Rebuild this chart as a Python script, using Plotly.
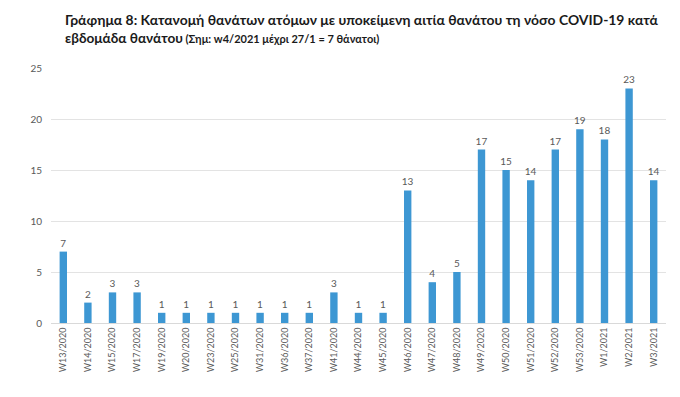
import plotly.graph_objects as go

weeks = ["W13/2020", "W14/2020", "W15/2020", "W17/2020", "W19/2020", "W20/2020",
         "W23/2020", "W25/2020", "W31/2020", "W36/2020", "W37/2020", "W41/2020",
         "W44/2020", "W45/2020", "W46/2020", "W47/2020", "W48/2020", "W49/2020",
         "W50/2020", "W51/2020", "W52/2020", "W53/2020", "W1/2021", "W2/2021", "W3/2021"]
deaths = [7, 2, 3, 3, 1, 1, 1, 1, 1, 1, 1, 3, 1, 1, 13, 4, 5, 17, 15, 14, 17, 19, 18, 23, 14]
y_ticks = [0, 5, 10, 15, 20, 25]

title_line1 = "Γράφημα 8: Κατανομή θανάτων ατόμων με υποκείμενη αιτία θανάτου τη νόσο COVID-19 κατά"
title_line2a = "εβδομάδα θανάτου"
title_line2b = " (Σημ: w4/2021 μέχρι 27/1 = 7 θάνατοι)"

FONT = "Lato, 'Noto Sans', sans-serif"
GRAY = "#595959"

fig = go.Figure(go.Bar(
    x=weeks, y=deaths,
    marker=dict(color="#3D97D3", line=dict(width=0)),
    text=[str(v) for v in deaths], textposition="outside",
    textfont=dict(family=FONT, size=10, color=GRAY),
    constraintext="none",
    cliponaxis=False,
))

# The page body has an 8px default margin, so the figure is sized to fill the rest.
fig.update_layout(
    width=672, height=389,
    margin=dict(l=43, r=14, t=60, b=74),
    paper_bgcolor="white", plot_bgcolor="white",
    bargap=0.7,
    showlegend=False,
    font=dict(family=FONT, color=GRAY),
    xaxis=dict(
        type="category", tickangle=-90, tickfont=dict(family=FONT, size=9, color=GRAY),
        showgrid=False, showline=True, linecolor="#d9d9d9", linewidth=1,
        ticks="", ticklen=0, automargin=False,
    ),
    yaxis=dict(
        range=[0, 25], tickvals=y_ticks, tickfont=dict(family=FONT, size=10, color=GRAY),
        showgrid=True, gridcolor="#e3e3e3", gridwidth=1, zeroline=False,
        showline=False, ticks="", ticklabelstandoff=8, automargin=False,
    ),
    annotations=[
        dict(xref="paper", yref="paper", x=0.0195, y=1.19, xanchor="left", yanchor="middle",
             showarrow=False, text="<b>" + title_line1 + "</b>",
             font=dict(family=FONT, size=13.9, color="#1a1a1a")),
        dict(xref="paper", yref="paper", x=0.0195, y=1.118, xanchor="left", yanchor="middle",
             showarrow=False,
             text="<b>" + title_line2a + "</b><b><span style='font-size:11px'>" + title_line2b + "</span></b>",
             font=dict(family=FONT, size=13.6, color="#1a1a1a")),
    ],
)

fig.write_html("out.html")
